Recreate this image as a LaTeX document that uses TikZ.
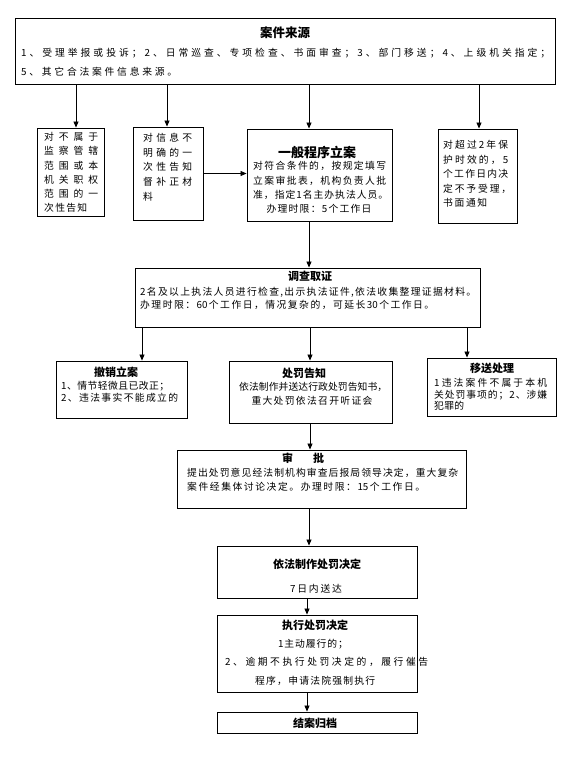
\documentclass[tikz,border=0pt]{standalone}
\usepackage{fontspec}
\setmainfont{Noto Sans CJK SC}
\usetikzlibrary{arrows.meta,fit}
\ExplSyntaxOn
\NewDocumentCommand \jl { m m }
  { \hbox to #1 { \tl_map_inline:nn {#2} { ##1 \hfil } \unskip } }
\ExplSyntaxOff
\tikzset{
  box/.style={draw=black, line width=0.9pt, inner sep=0pt, fill=white},
  tx/.style={inner sep=0pt, font=\fontsize{9.8pt}{11pt}\selectfont, text height=8.6pt, text depth=1.2pt},
  ttl/.style={inner sep=0pt, font=\bfseries\fontsize{11pt}{13pt}\selectfont},
  arr/.style={draw=black, line width=0.8pt, -{Triangle[length=6pt,width=5pt]}}
}
\begin{document}
\begin{tikzpicture}[x=1pt,y=-1pt]
\useasboundingbox (0,0) rectangle (570,762);
% boxes
\node[box, fit={(15,18) (555,84)}] (src) {};
\node[box, fit={(37,128) (104,216)}] (b1) {};
\node[box, fit={(133,127) (203,220)}] (b2) {};
\node[box, fit={(247,129) (392,221)}] (b3) {};
\node[box, fit={(438,129) (517,223)}] (b4) {};
\node[box, fit={(135,268) (480,327)}] (b5) {};
\node[box, fit={(56,361) (187,418)}] (b6) {};
\node[box, fit={(229,361) (392,423)}] (b7) {};
\node[box, fit={(427,358) (556,416)}] (b8) {};
\node[box, fit={(177,450) (466,508)}] (b9) {};
\node[box, fit={(217,546) (417,598)}] (b10) {};
\node[box, fit={(217,615) (417,692)}] (b11) {};
\node[box, fit={(217,712) (417,733)}] (b12) {};
% source
\node[ttl, font=\bfseries\fontsize{12.5pt}{14pt}\selectfont] (srct) at (285,33) {案件来源};
\node[tx, anchor=west] (src1) at (21,53) {\jl{529pt}{{1}、受理举报或投诉；{2}、日常巡查、专项检查、书面审查；{3}、部门移送；{4}、上级机关指定；}};
\node[tx, anchor=west] (src2) at (21,72) {\jl{156pt}{{5}、其它合法案件信息来源。}};
% b1
\node[tx, anchor=west] (b1a) at (44,137) {\jl{54pt}{对不属于}};
\node[tx, anchor=west] (b1b) at (44,151.2) {\jl{54pt}{监察管辖}};
\node[tx, anchor=west] (b1c) at (44,165.4) {\jl{54pt}{范围或本}};
\node[tx, anchor=west] (b1d) at (44,179.6) {\jl{54pt}{机关职权}};
\node[tx, anchor=west] (b1e) at (44,193.8) {\jl{54pt}{范围的一}};
\node[tx, anchor=west] (b1f) at (44,208) {\jl{43pt}{次性告知}};
% b2
\node[tx, anchor=west] (b2a) at (143,138) {\jl{49pt}{对信息不}};
\node[tx, anchor=west] (b2b) at (143,152.5) {\jl{49pt}{明确的一}};
\node[tx, anchor=west] (b2c) at (143,167) {\jl{49pt}{次性告知}};
\node[tx, anchor=west] (b2d) at (143,182) {\jl{49pt}{督补正材}};
\node[tx, anchor=west] (b2e) at (143,197) {料};
% b3
\node[ttl, font=\bfseries\fontsize{13pt}{15pt}\selectfont] (b3t) at (317,152) {一般程序立案};
\node[tx, anchor=west] (b3a) at (253,166) {\jl{133pt}{对符合条件的，按规定填写}};
\node[tx, anchor=west] (b3b) at (253,180.5) {\jl{133pt}{立案审批表，机构负责人批}};
\node[tx, anchor=west] (b3c) at (253,195) {\jl{135pt}{准，指定{1}名主办执法人员。}};
\node[tx] (b3d) at (319,209) {\jl{105pt}{办理时限：{5}个工作日}};
% b4
\node[tx, anchor=west] (b4a) at (443,145) {\jl{65pt}{对超过{2}年保}};
\node[tx, anchor=west] (b4b) at (443,159.5) {\jl{65pt}{护时效的，{5}}};
\node[tx, anchor=west] (b4c) at (443,174) {\jl{65pt}{个工作日内决}};
\node[tx, anchor=west] (b4d) at (443,188.5) {\jl{68pt}{定不予受理，}};
\node[tx, anchor=west] (b4e) at (443,203) {\jl{44pt}{书面通知}};
% b5
\node[ttl] (b5t) at (310,276) {调查取证};
\node[tx, anchor=west] (b5a) at (140,292) {\jl{336pt}{{2}名及以上执法人员进行检查,出示执法证件,依法收集整理证据材料。}};
\node[tx, anchor=west] (b5b) at (140,305) {\jl{294pt}{办理时限：{60}个工作日，情况复杂的，可延长{30}个工作日。}};
% b6
\node[ttl] (b6t) at (116,372) {撤销立案};
\node[tx, anchor=west] (b6a) at (61,386) {\jl{108pt}{{1}、情节轻微且已改正；}};
\node[tx, anchor=west] (b6b) at (61,398) {\jl{117pt}{{2}、违法事实不能成立的}};
% b7
\node[ttl] (b7t) at (304,373) {处罚告知};
\node[tx, anchor=west] (b7a) at (239,387) {\jl{148pt}{依法制作并送达行政处罚告知书，}};
\node[tx] (b7b) at (312,401) {\jl{121pt}{重大处罚依法召开听证会}};
% b8
\node[ttl] (b8t) at (492,368) {移送处理};
\node[tx, anchor=west] (b8a) at (434,383) {\jl{113pt}{{1}违法案件不属于本机}};
\node[tx, anchor=west] (b8b) at (434,395) {\jl{113pt}{关处罚事项的；{2}、涉嫌}};
\node[tx, anchor=west] (b8c) at (434,406) {\jl{30pt}{犯罪的}};
% b9
\node[ttl] (b9t) at (303,458) {审\hspace{20pt}批};
\node[tx, anchor=west] (b9a) at (187,473) {\jl{271pt}{提出处罚意见经法制机构审查后报局领导决定，重大复杂}};
\node[tx, anchor=west] (b9b) at (187,487) {\jl{238pt}{案件经集体讨论决定。办理时限：{15}个工作日。}};
% b10
\node[ttl] (b10t) at (317,564) {依法制作处罚决定};
\node[tx] (b10a) at (316,589) {\jl{52pt}{{7}日内送达}};
% b11
\node[ttl] (b11t) at (315,625) {执行处罚决定};
\node[tx] (b11a) at (313,644) {\jl{70pt}{{1}主动履行的；}};
\node[tx, anchor=west] (b11b) at (225,662) {\jl{203pt}{{2}、逾期不执行处罚决定的，履行催告}};
\node[tx, anchor=west] (b11c) at (255,681) {\jl{120pt}{程序，申请法院强制执行}};
% b12
\node[ttl] (b12t) at (315,723) {结案归档};
% connector x positions
\coordinate (xa) at (76,0);
\coordinate (xb) at (167,0);
\coordinate (xc) at (309,0);
\coordinate (xd) at (479,0);
\coordinate (xe) at (142,0);
\coordinate (xf) at (310,0);
\coordinate (xg) at (467,0);
\coordinate (xh) at (307,0);
% connectors
\draw[arr] (src.south -| xa) -- (b1.north -| xa);
\draw[arr] (src.south -| xb) -- (b2.north -| xb);
\draw[arr] (src.south -| xc) -- (b3.north -| xc);
\draw[arr] (src.south -| xd) -- (b4.north -| xd);
\draw[arr] (b2.east) -- (b2.east -| b3.west);
\draw[arr] (b3.south -| xc) -- (b5.north -| xc);
\draw[arr] (b5.south -| xe) -- (b6.north -| xe);
\draw[arr] (b5.south -| xf) -- (b7.north -| xf);
\draw[arr] (b5.south -| xg) -- (b8.north -| xg);
\draw[arr] (b7.south -| xf) -- (b9.north -| xf);
\draw[arr] (b9.south -| xc) -- (b10.north -| xc);
\draw[arr] (b10.south -| xh) -- (b11.north -| xh);
\draw[arr] (b11.south -| xh) -- (b12.north -| xh);
\end{tikzpicture}
\end{document}
